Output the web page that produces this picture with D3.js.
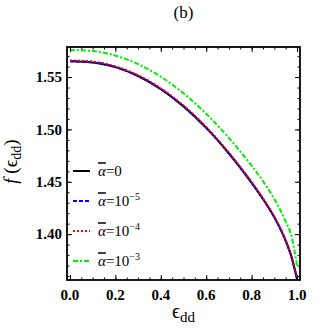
<!DOCTYPE html>
<html>
<head>
<meta charset="utf-8">
<script src="https://cdn.jsdelivr.net/npm/d3@7"></script>
<style>
  body { margin: 0; background: #fff; }
  svg { display: block; }
</style>
</head>
<body>
<div id="chart"></div>
<script>
// values
const eps = [0, 0.1, 0.2, 0.3, 0.4, 0.5, 0.6, 0.7, 0.8, 0.85, 0.9, 0.95, 0.975, 1.0];
const fAlpha0 = [1.5650, 1.5640, 1.5595, 1.5510, 1.5385, 1.5220, 1.5015, 1.4770, 1.4490, 1.4335, 1.4160, 1.3935, 1.3785, 1.3570];
const fAlpha5 = [1.5651, 1.5641, 1.5596, 1.5511, 1.5386, 1.5221, 1.5016, 1.4771, 1.4491, 1.4336, 1.4161, 1.3936, 1.3786, 1.3571];
const fAlpha4 = [1.5658, 1.5648, 1.5603, 1.5518, 1.5393, 1.5228, 1.5023, 1.4778, 1.4498, 1.4343, 1.4168, 1.3943, 1.3793, 1.3578];
const fAlpha3 = [1.5758, 1.5748, 1.5705, 1.5623, 1.5503, 1.5345, 1.5150, 1.4918, 1.4653, 1.4505, 1.4335, 1.4120, 1.3985, 1.3700];
const legendExp = [null, "\u22125", "\u22124", "\u22123"];
const xTicks = [0, 0.2, 0.4, 0.6, 0.8, 1.0];
const yTicks = [1.40, 1.45, 1.50, 1.55];

const W = 325, H = 328;
const margin = {top: 47, right: 25, bottom: 48, left: 67};
const width = W - margin.left - margin.right;
const height = H - margin.top - margin.bottom;

const svg = d3.select("#chart").append("svg")
    .attr("width", W)
    .attr("height", H)
    .style("font-family", "'Liberation Serif', 'Times New Roman', serif");

const g = svg.append("g")
    .attr("transform", `translate(${margin.left},${margin.top})`);

const x = d3.scaleLinear().domain([-0.013, 1.013]).range([0, width]);
const y = d3.scaleLinear().domain([1.3562, 1.5787]).range([height, 0]);

// clip region for curves
g.append("clipPath").attr("id", "clip")
    .append("rect").attr("width", width).attr("height", height);

const series = [
    {vals: fAlpha0, color: "#000000", dash: null},
    {vals: fAlpha5, color: "#0000ff", dash: "4,2"},
    {vals: fAlpha4, color: "#ff0000", dash: "2,2"},
    {vals: fAlpha3, color: "#00ee00", dash: "5,2,2,2"}
];

const line = d3.line()
    .x((d, i) => x(eps[i]))
    .y(d => y(d))
    .curve(d3.curveMonotoneX);

g.append("g").attr("clip-path", "url(#clip)")
    .selectAll("path")
    .data(series)
    .join("path")
    .attr("d", s => line(s.vals))
    .attr("fill", "none")
    .attr("stroke", s => s.color)
    .attr("stroke-width", 2)
    .attr("stroke-dasharray", s => s.dash);

// axes: ticks pointing inward, frame on all four sides
const xMinor = d3.range(0, 1.0001, 0.05);
const yMinor = d3.range(1.36, 1.5751, 0.01);

function ticksOn(axisGen, scale, vals, size) {
    return axisGen(scale).tickValues(vals).tickSize(size).tickFormat(() => "");
}

g.append("g").attr("transform", `translate(0,${height})`)
    .call(ticksOn(d3.axisTop, x, xMinor, 2.5));
g.append("g").attr("transform", `translate(0,${height})`)
    .call(ticksOn(d3.axisTop, x, xTicks, 5));
g.append("g").call(ticksOn(d3.axisBottom, x, xMinor, 2.5));
g.append("g").call(ticksOn(d3.axisBottom, x, xTicks, 5));
g.append("g").call(ticksOn(d3.axisRight, y, yMinor, 2.5));
g.append("g").call(ticksOn(d3.axisRight, y, yTicks, 5));
g.append("g").attr("transform", `translate(${width},0)`)
    .call(ticksOn(d3.axisLeft, y, yMinor, 2.5));
g.append("g").attr("transform", `translate(${width},0)`)
    .call(ticksOn(d3.axisLeft, y, yTicks, 5));

g.selectAll(".domain").remove();
g.selectAll(".tick line").attr("stroke", "#000").attr("stroke-width", 1);

// tick labels
g.selectAll(".xlab").data(xTicks).join("text")
    .attr("x", d => x(d))
    .attr("y", height + 20)
    .attr("text-anchor", "middle")
    .attr("font-weight", "bold")
    .attr("font-size", 15)
    .text(d3.format(".1f"));

g.selectAll(".ylab").data(yTicks).join("text")
    .attr("x", -5)
    .attr("y", d => y(d))
    .attr("dy", "0.35em")
    .attr("text-anchor", "end")
    .attr("font-weight", "bold")
    .attr("font-size", 15)
    .text(d3.format(".2f"));

g.append("rect")
    .attr("width", width).attr("height", height)
    .attr("fill", "none").attr("stroke", "#000").attr("stroke-width", 1.8);

// title
svg.append("text")
    .attr("x", margin.left + width / 2)
    .attr("y", 18)
    .attr("text-anchor", "middle")
    .attr("font-size", 17)
    .text("(b)");

// x axis label
const xl = svg.append("text")
    .attr("x", margin.left + width / 2)
    .attr("y", 318)
    .attr("text-anchor", "middle")
    .attr("font-size", 20);
xl.append("tspan").text("\u03f5");
xl.append("tspan").attr("font-size", 15).attr("dy", 4).text("dd");

// y axis label
const yl = svg.append("text")
    .attr("transform", `translate(17,${margin.top + height / 2 - 2}) rotate(-90)`)
    .attr("text-anchor", "middle")
    .attr("font-size", 19);
yl.append("tspan").attr("font-style", "italic").text("f");
yl.append("tspan").text(" (\u03f5");
yl.append("tspan").attr("font-size", 14).attr("dy", 4).text("dd");
yl.append("tspan").attr("dy", -4).text(")");

// legend
const leg = g.append("g").attr("transform", "translate(6,124)");
const rows = leg.selectAll("g").data(series).join("g")
    .attr("transform", (d, i) => `translate(0,${i * 30})`);
rows.append("line")
    .attr("x1", 0).attr("x2", 17)
    .attr("stroke", s => s.color)
    .attr("stroke-width", 2)
    .attr("stroke-dasharray", s => s.dash);
const lt = rows.append("text")
    .attr("x", 25)
    .attr("dy", "0.35em")
    .attr("font-size", 15);
lt.append("tspan")
    .attr("font-style", "italic")
    .style("text-decoration", "overline")
    .text("\u03b1");
lt.append("tspan").text((d, i) => legendExp[i] ? "=10" : "=0");
lt.each(function(d, i) {
    if (!legendExp[i]) return;
    d3.select(this).append("tspan")
        .attr("font-size", 10)
        .attr("dy", -6)
        .text(legendExp[i]);
});
</script>
</body>
</html>
